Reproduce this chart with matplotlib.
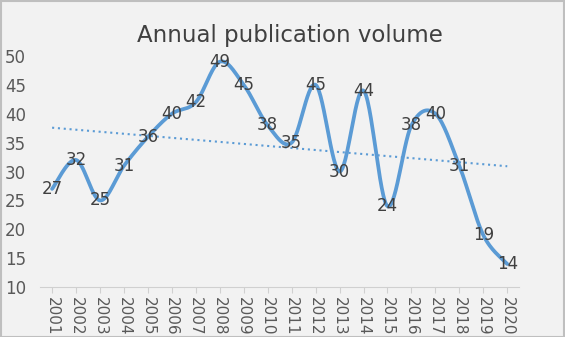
import matplotlib.pyplot as plt
import numpy as np

# datos
years = ['2001', '2002', '2003', '2004', '2005', '2006', '2007', '2008', '2009', '2010',
         '2011', '2012', '2013', '2014', '2015', '2016', '2017', '2018', '2019', '2020']
volume = [27, 32, 25, 31, 36, 40, 42, 49, 45, 38, 35, 45, 30, 44, 24, 38, 40, 31, 19, 14]

azul = '#5b9bd5'
fondo = '#f2f2f2'


def suavizar(x, y, n=30, t=1/6):
    # curva bezier tipo Excel entre puntos consecutivos
    x = np.asarray(x, float)
    y = np.asarray(y, float)
    px = np.concatenate([[x[0]], x, [x[-1]]])
    py = np.concatenate([[y[0]], y, [y[-1]]])
    xs, ys = [], []
    s = np.linspace(0, 1, n)
    for i in range(len(x) - 1):
        p0 = np.array([px[i + 1], py[i + 1]])
        p3 = np.array([px[i + 2], py[i + 2]])
        c1 = p0 + t * (p3 - np.array([px[i], py[i]]))
        c2 = p3 - t * (np.array([px[i + 3], py[i + 3]]) - p0)
        b = ((1 - s) ** 3)[:, None] * p0 + (3 * (1 - s) ** 2 * s)[:, None] * c1 \
            + (3 * (1 - s) * s ** 2)[:, None] * c2 + (s ** 3)[:, None] * p3
        xs.extend(b[:, 0])
        ys.extend(b[:, 1])
    return np.array(xs), np.array(ys)


fig = plt.figure(figsize=(5.65, 3.37), dpi=100, facecolor=fondo)
ax = fig.add_axes([0.071, 0.148, 0.848, 0.686])
ax.set_facecolor(fondo)

x = np.arange(len(years))
xs, ys = suavizar(x, volume)
ax.plot(xs, ys, color=azul, lw=2.7, solid_capstyle='round', zorder=3)

# linea de tendencia lineal
m, b = np.polyfit(x, volume, 1)
ax.plot([x[0], x[-1]], [m * x[0] + b, m * x[-1] + b], color=azul, lw=1.5,
        ls=(0, (1, 1.8)), zorder=2)

for xi, v in zip(x, volume):
    ax.text(xi, v, str(v), ha='center', va='center', fontsize=12,
            color='#404040', zorder=4)

ax.set_xlim(-0.5, len(years) - 0.5)
ax.set_ylim(10, 50)
ax.set_yticks(range(10, 51, 5))
ax.set_xticks(x)
ax.set_xticklabels(years, rotation=270, fontsize=11, color='#595959')
ax.tick_params(axis='y', length=0, labelsize=12, labelcolor='#595959', pad=10)
ax.tick_params(axis='x', length=4, color='#d0d0d0', pad=3)

for lado in ['top', 'right', 'left']:
    ax.spines[lado].set_visible(False)
ax.spines['bottom'].set_color('#d0d0d0')

fig.text(0.513, 0.895, 'Annual publication volume', ha='center', va='center',
         fontsize=16.5, color='#404040')

# marco gris del grafico
fig.patches.append(plt.Rectangle((0.002, 0), 0.996, 0.997, transform=fig.transFigure,
                                 fill=False, edgecolor='#bfbfbf', lw=1.5))

fig.savefig('out.png', dpi=100, facecolor=fondo)
